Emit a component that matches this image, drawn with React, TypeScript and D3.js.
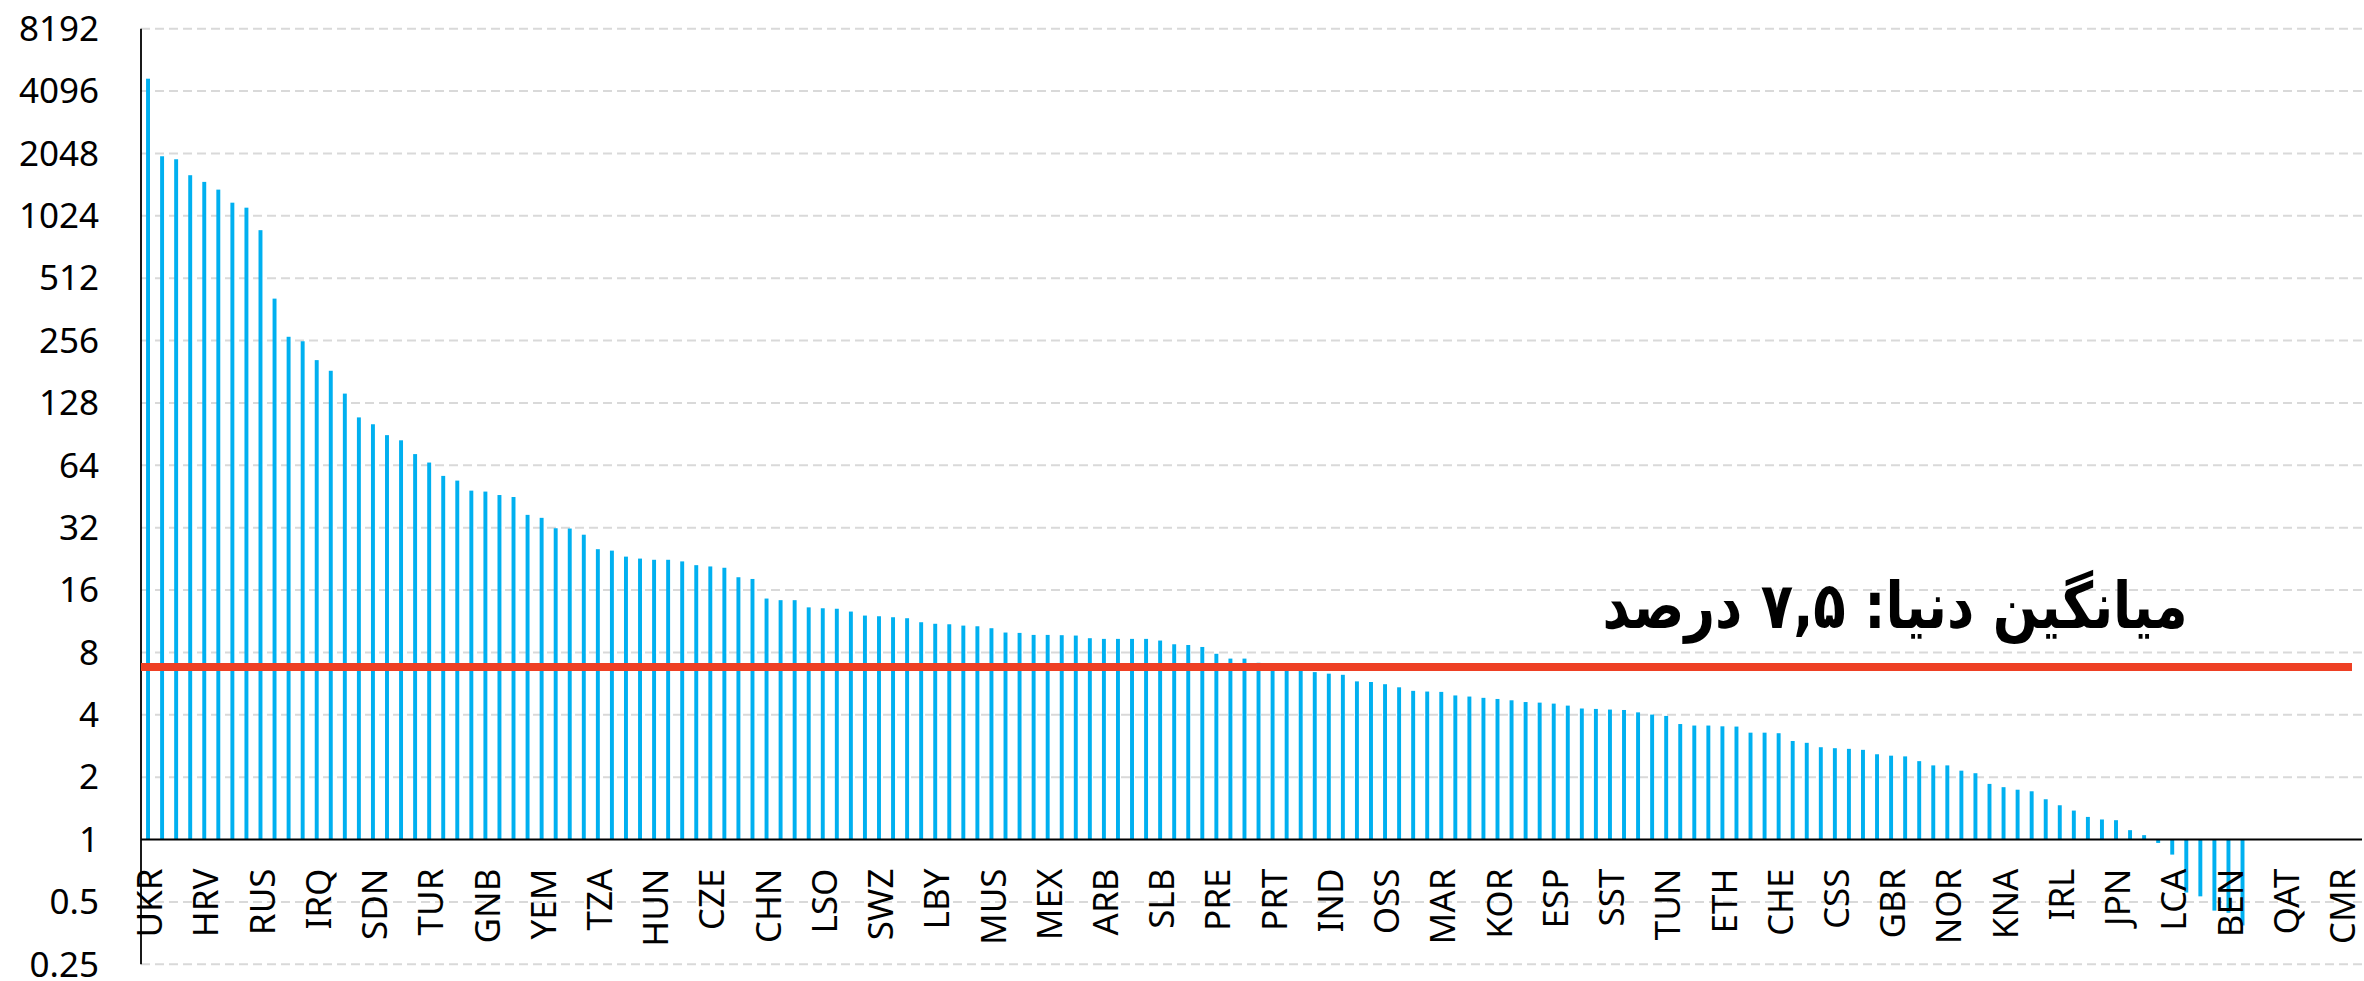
import React from "react";
import * as d3 from "d3";

// ---- data ----
const shownLabels: string[] = [
  "UKR","HRV","RUS","IRQ","SDN","TUR","GNB","YEM","TZA","HUN",
  "CZE","CHN","LSO","SWZ","LBY","MUS","MEX","ARB","SLB","PRE",
  "PRT","IND","OSS","MAR","KOR","ESP","SST","TUN","ETH","CHE",
  "CSS","GBR","NOR","KNA","IRL","JPN","LCA","BEN","QAT","CMR",
];
const labelEvery = 4;

const values: (number | null)[] = [
  4700, 1985, 1920, 1608, 1493, 1370, 1185, 1121, 873, 408,
  267, 254, 206, 183, 142, 109, 101, 89.5, 84.5, 72.5,
  66, 56.9, 54, 48.3, 47.8, 46.0, 45.0, 36.9, 35.7, 31.8,
  31.7, 29.6, 25.2, 24.8, 23.2, 22.7, 22.4, 22.4, 22.0, 21.1,
  20.8, 20.5, 18.45, 18.1, 14.56, 14.3, 14.3, 13.2, 13.07, 13.0,
  12.6, 12.05, 11.96, 11.83, 11.7, 11.19, 11.0, 10.94, 10.78, 10.7,
  10.47, 9.98, 9.94, 9.72, 9.72, 9.69, 9.65, 9.37, 9.3, 9.3,
  9.3, 9.3, 9.13, 8.76, 8.69, 8.5, 7.88, 7.47, 7.47, 7.13,
  6.95, 6.8, 6.6, 6.43, 6.32, 6.24, 5.8, 5.76, 5.62, 5.43,
  5.22, 5.18, 5.16, 4.96, 4.9, 4.83, 4.77, 4.7, 4.61, 4.58,
  4.53, 4.43, 4.29, 4.27, 4.24, 4.22, 4.11, 4.01, 3.95, 3.61,
  3.55, 3.55, 3.52, 3.51, 3.28, 3.28, 3.26, 2.99, 2.93, 2.79,
  2.76, 2.74, 2.71, 2.58, 2.54, 2.52, 2.39, 2.28, 2.28, 2.15,
  2.09, 1.856, 1.79, 1.74, 1.71, 1.565, 1.464, 1.38, 1.286, 1.25,
  1.24, 1.11, 1.05, 0.963, 0.846, 0.555, 0.532, 0.454, 0.443, 0.385,
  null, null, null, null, null, null, null, null,
];

const yTicks: number[] = [0.25, 0.5, 1, 2, 4, 8, 16, 32, 64, 128, 256, 512, 1024, 2048, 4096, 8192];
const baseValue = 1;
const averageLineValue = 6.8;
const averageText = "میانگین دنیا: ۷,۵ درصد";

// ---- layout ----
const W = 2364;
const H = 981;
const plotLeft = 141;
const plotRight = 2362;
const plotTop = 28.7;
const plotBottom = 964.3;

export default function App() {
  const idx = values.map((_, i) => i);
  const x = d3
    .scaleBand<number>()
    .domain(idx)
    .range([plotLeft, plotRight])
    .paddingInner(0.72)
    .paddingOuter(0.36);
  const y = d3.scaleLog().base(2).domain([0.25, 8192]).range([plotBottom, plotTop]);
  const y1 = y(baseValue);
  const fmt = (v: number) => String(v);
  const font = "'Noto Sans', 'Open Sans', sans-serif";

  return (
    <svg
      width={W}
      height={H}
      style={{ position: "absolute", left: 0, top: 0, background: "#fff" }}
    >
      {/* gridlines */}
      {yTicks
        .filter((t) => t !== baseValue)
        .map((t) => (
          <line
            key={"g" + t}
            x1={plotLeft}
            x2={plotRight}
            y1={y(t)}
            y2={y(t)}
            stroke="#D9D9D9"
            strokeWidth={2}
            strokeDasharray="9 5"
          />
        ))}

      {/* bars */}
      {values.map((v, i) =>
        v == null ? null : (
          <rect
            key={"b" + i}
            x={x(i)!}
            width={x.bandwidth()}
            y={Math.min(y(v), y1)}
            height={Math.abs(y(v) - y1)}
            fill="#00B0F0"
          />
        )
      )}

      {/* y axis */}
      <line x1={plotLeft} x2={plotLeft} y1={plotTop} y2={plotBottom} stroke="#000" strokeWidth={1.8} />
      {/* base axis at 1 */}
      <line x1={plotLeft} x2={plotRight} y1={y1} y2={y1} stroke="#000" strokeWidth={2} />

      {/* y tick labels */}
      {yTicks.map((t) => (
        <text
          key={"t" + t}
          x={99}
          y={y(t)}
          dy="0.35em"
          textAnchor="end"
          fontFamily={font}
          fontSize={35}
          fill="#000"
        >
          {fmt(t)}
        </text>
      ))}

      {/* x labels */}
      {idx
        .filter((i) => i % labelEvery === 0)
        .map((i) => {
          const cx = x(i)! + x.bandwidth() / 2 + 1.5;
          const ty = y1 + 29;
          return (
            <text
              key={"l" + i}
              transform={`translate(${cx},${ty}) rotate(-90)`}
              dy="0.36em"
              textAnchor="end"
              fontFamily={font}
              fontSize={35}
              fill="#000"
            >
              {shownLabels[i / labelEvery]}
            </text>
          );
        })}

      {/* average line */}
      <line
        x1={plotLeft}
        x2={2352}
        y1={y(averageLineValue)}
        y2={y(averageLineValue)}
        stroke="#EE4024"
        strokeWidth={8}
      />
      <g transform="translate(1895,628) scale(0.83,1)">
        <text
          x={0}
          y={0}
          textAnchor="middle"
          direction="rtl"
          fontFamily="'DejaVu Sans', sans-serif"
          fontWeight="bold"
          fontSize={64}
          fill="#000"
        >
          {averageText}
        </text>
      </g>
    </svg>
  );
}
